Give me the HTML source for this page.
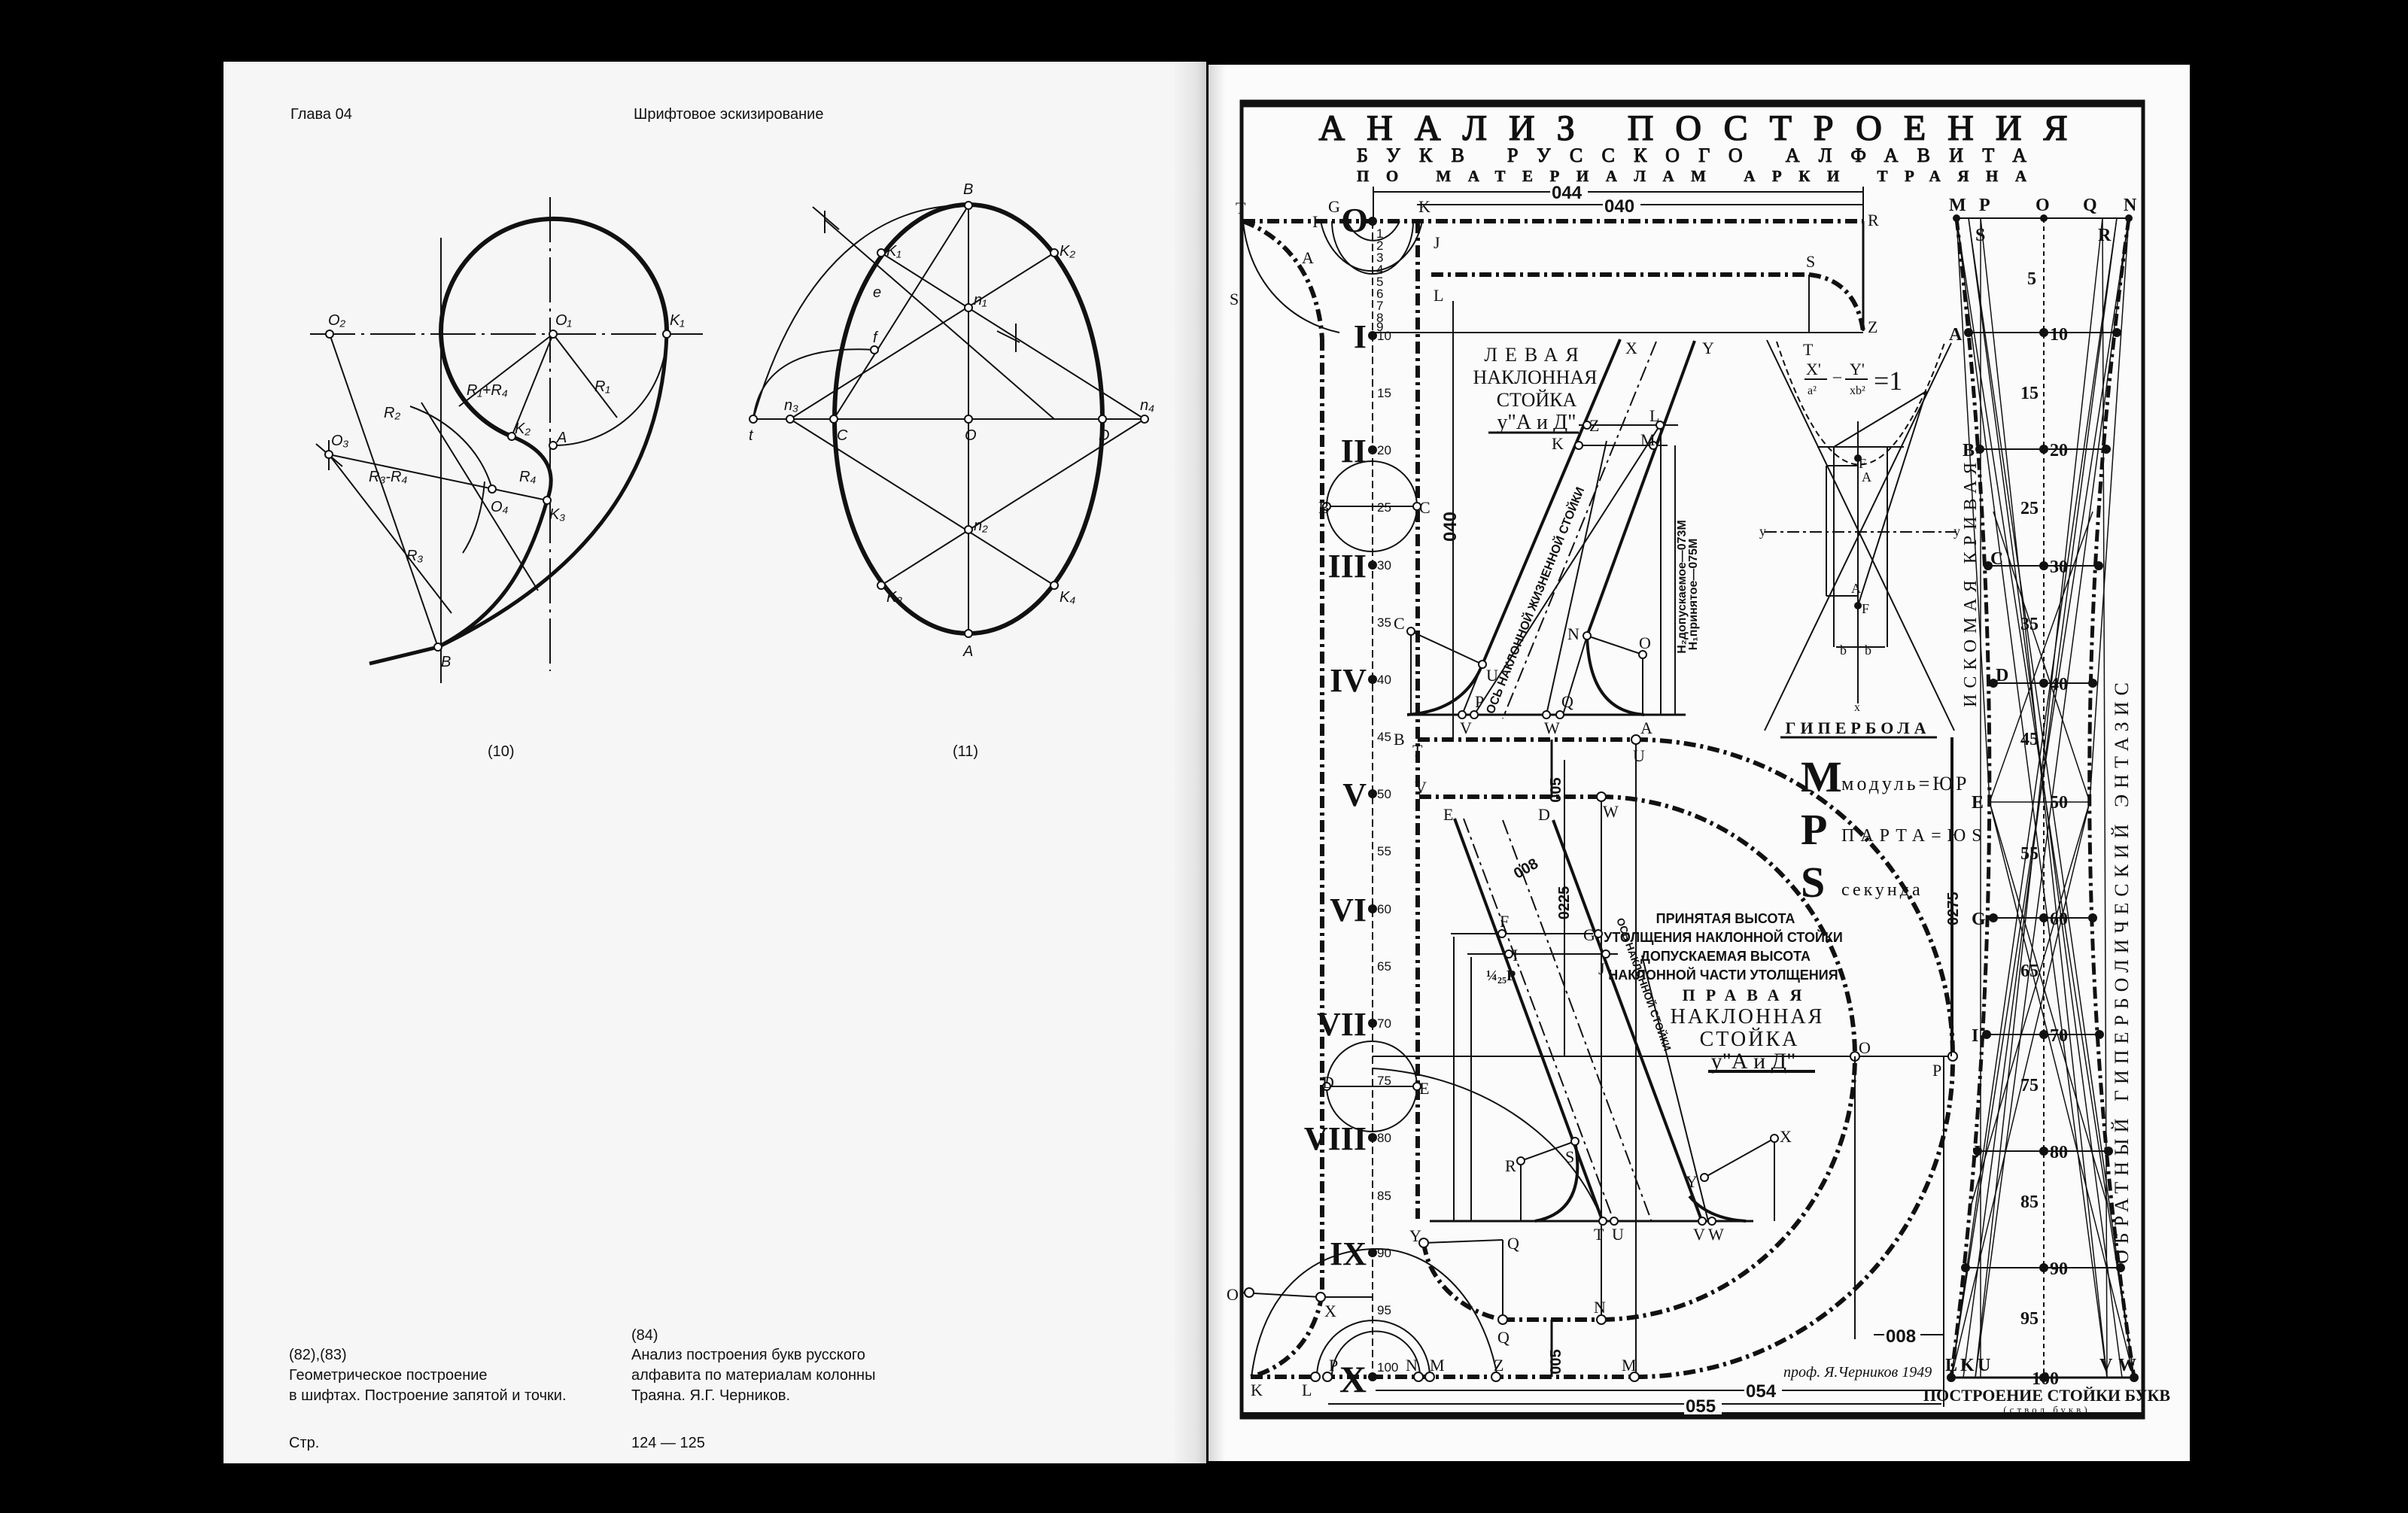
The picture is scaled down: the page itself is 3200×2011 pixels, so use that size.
<!DOCTYPE html>
<html><head><meta charset="utf-8">
<style>
html,body{margin:0;padding:0;background:#000;}
body{width:3200px;height:2011px;overflow:hidden;position:relative;font-family:"Liberation Sans","Noto Sans CJK SC",sans-serif;}
svg{position:absolute;left:0;top:0;}
</style></head><body>
<svg width="3200" height="2011" viewBox="0 0 3200 2011" xmlns="http://www.w3.org/2000/svg">
<defs>
<linearGradient id="gut" x1="0" x2="1">
<stop offset="0" stop-color="#f4f4f4"/><stop offset="0.7" stop-color="#e4e4e4"/><stop offset="1" stop-color="#cfcfcf"/>
</linearGradient>
<linearGradient id="gut2" x1="0" x2="1">
<stop offset="0" stop-color="#d8d8d8"/><stop offset="1" stop-color="#fbfbfb"/>
</linearGradient>
</defs>
<rect width="3200" height="2011" fill="#000"/>
<rect x="297" y="82" width="1306" height="1863" fill="#f6f6f6"/>
<rect x="1560" y="82" width="43" height="1863" fill="url(#gut)"/>
<rect x="1606" y="86" width="1304" height="1856" fill="#fbfbfb"/>
<rect x="1606" y="86" width="22" height="1856" fill="url(#gut2)"/>

<g font-family="Liberation Sans, sans-serif" font-size="20" fill="#111">
<text x="386" y="158">Глава 04</text>
<text x="842" y="158">Шрифтовое эскизирование</text>
<text x="648" y="1005">(10)</text>
<text x="1266" y="1005">(11)</text>
<text x="384" y="1807">(82),(83)</text>
<text x="384" y="1834">Геометрическое построение</text>
<text x="384" y="1861">в шифтах. Построение запятой и точки.</text>
<text x="839" y="1781">(84)</text>
<text x="839" y="1807">Анализ построения букв русского</text>
<text x="839" y="1834">алфавита по материалам колонны</text>
<text x="839" y="1861">Траяна. Я.Г. Черников.</text>
<text x="384" y="1924">Стр.</text>
<text x="839" y="1924">124 — 125</text>
</g>

<g fill="none" stroke="#111" stroke-width="2">
<line x1="412" y1="444" x2="934" y2="444" stroke-dasharray="60 8 4 8"/>
<line x1="586" y1="316" x2="586" y2="908"/>
<line x1="731" y1="262" x2="731" y2="892" stroke-dasharray="60 8 4 8"/>
<path d="M680 580 A150 150 0 1 1 886 444" stroke-width="6"/>
<path d="M886 444 A150 150 0 0 1 735 592"/>
<path d="M886 444 C 880 620 790 760 582 860 L 491 882" stroke-width="5"/>
<path d="M680 580 C 730 600 740 630 727 665 C 700 760 660 820 582 860" stroke-width="5"/>
<line x1="438" y1="444" x2="582" y2="860" stroke-width="2"/>
<line x1="437" y1="604" x2="727" y2="665"/>
<line x1="437" y1="604" x2="600" y2="815"/>
<line x1="735" y1="444" x2="680" y2="580"/>
<line x1="735" y1="444" x2="820" y2="555"/>
<line x1="735" y1="444" x2="610" y2="540"/>
<line x1="560" y1="535" x2="715" y2="785"/>
<path d="M545 540 C 600 560 640 600 654 650" />
<path d="M644 640 C 640 690 625 720 615 735"/>
<line x1="420" y1="590" x2="455" y2="620"/><line x1="437" y1="585" x2="437" y2="625"/>
</g>
<g fill="#fff" stroke="#111" stroke-width="2">
<circle cx="438" cy="444" r="5"/><circle cx="735" cy="444" r="5"/><circle cx="886" cy="444" r="5"/>
<circle cx="437" cy="604" r="5"/><circle cx="654" cy="650" r="5"/><circle cx="680" cy="580" r="5"/>
<circle cx="735" cy="592" r="5"/><circle cx="727" cy="665" r="5"/><circle cx="582" cy="860" r="5"/>
</g>
<g font-family="Liberation Sans, sans-serif" font-style="italic" font-size="20" fill="#111">
<text x="436" y="432">O₂</text><text x="738" y="432">O₁</text><text x="890" y="432">K₁</text>
<text x="440" y="592">O₃</text><text x="652" y="680">O₄</text><text x="684" y="576">K₂</text>
<text x="740" y="588">A</text><text x="730" y="690">K₃</text><text x="586" y="886">B</text>
<text x="620" y="525">R₁+R₄</text><text x="790" y="520">R₁</text><text x="510" y="555">R₂</text>
<text x="490" y="640">R₃-R₄</text><text x="690" y="640">R₄</text><text x="540" y="745">R₃</text>
</g>

<g fill="none" stroke="#111" stroke-width="2">
<ellipse cx="1287" cy="557" rx="178" ry="285" stroke-width="6"/>
<line x1="1287" y1="273" x2="1287" y2="842"/>
<line x1="1001" y1="557" x2="1521" y2="557"/>
<line x1="1050" y1="557" x2="1401" y2="336"/>
<line x1="1050" y1="557" x2="1401" y2="778"/>
<line x1="1521" y1="557" x2="1171" y2="336"/>
<line x1="1521" y1="557" x2="1171" y2="778"/>
<line x1="1096" y1="292" x2="1401" y2="557"/>
<line x1="1108" y1="557" x2="1287" y2="273"/>
<path d="M1287 273 C 1170 270 1060 350 1001 557"/>
<path d="M1001 557 C 1010 480 1080 460 1162 465"/>
<line x1="1080" y1="275" x2="1115" y2="305"/><line x1="1096" y1="280" x2="1096" y2="310"/>
<line x1="1325" y1="440" x2="1355" y2="455"/><line x1="1350" y1="430" x2="1350" y2="468"/>
</g>
<g fill="#fff" stroke="#111" stroke-width="2">
<circle cx="1287" cy="273" r="5"/><circle cx="1287" cy="842" r="5"/><circle cx="1287" cy="557" r="5"/>
<circle cx="1108" cy="557" r="5"/><circle cx="1465" cy="557" r="5"/><circle cx="1001" cy="557" r="5"/>
<circle cx="1050" cy="557" r="5"/><circle cx="1521" cy="557" r="5"/><circle cx="1287" cy="409" r="5"/>
<circle cx="1287" cy="704" r="5"/><circle cx="1171" cy="336" r="5"/><circle cx="1401" cy="336" r="5"/>
<circle cx="1171" cy="778" r="5"/><circle cx="1401" cy="778" r="5"/><circle cx="1162" cy="465" r="5"/>
</g>
<g font-family="Liberation Sans, sans-serif" font-style="italic" font-size="20" fill="#111">
<text x="1280" y="258">B</text><text x="1280" y="872">A</text><text x="1282" y="585">O</text>
<text x="1112" y="585">C</text><text x="1460" y="585">D</text><text x="995" y="585">t</text>
<text x="1042" y="545">n₃</text><text x="1515" y="545">n₄</text><text x="1294" y="405">n₁</text>
<text x="1294" y="705">n₂</text><text x="1178" y="340">K₁</text><text x="1408" y="340">K₂</text>
<text x="1178" y="800">K₃</text><text x="1408" y="800">K₄</text><text x="1160" y="395">e</text><text x="1160" y="455">f</text>
</g>

<rect x="1650" y="135" width="1198" height="1749" fill="none" stroke="#111" stroke-width="5"/>
<line x1="1650" y1="140" x2="2848" y2="140" stroke="#111" stroke-width="5"/>
<line x1="1650" y1="1880" x2="2848" y2="1880" stroke="#111" stroke-width="6"/>

<g font-family="Liberation Serif, serif" fill="#111" text-anchor="middle" stroke="#111">
<text x="2250" y="186" font-size="48" stroke-width="1.5" textLength="995" lengthAdjust="spacing">АНАЛИЗ ПОСТРОЕНИЯ</text>
<text x="2248" y="215" font-size="26" stroke-width="1" textLength="890" lengthAdjust="spacing">БУКВ РУССКОГО АЛФАВИТА</text>
<text x="2248" y="241" font-size="21" stroke-width="0.5" font-weight="bold" textLength="890" lengthAdjust="spacing">ПО МАТЕРИАЛАМ АРКИ ТРАЯНА</text>
</g>

<g stroke="#111" stroke-width="2" fill="#111">
<line x1="1825" y1="255" x2="2476" y2="255"/><line x1="1883" y1="272" x2="2476" y2="272"/>
<line x1="1825" y1="248" x2="1825" y2="300"/><line x1="2476" y1="248" x2="2476" y2="294"/>
</g>
<g font-family="Liberation Sans, sans-serif" font-weight="bold" font-size="24" fill="#111">
<rect x="2060" y="244" width="50" height="22" fill="#fbfbfb"/><text x="2062" y="264">044</text>
<rect x="2130" y="262" width="50" height="22" fill="#fbfbfb"/><text x="2132" y="282">040</text>
</g>

<g fill="none" stroke="#111" stroke-width="6" stroke-dasharray="16 6 4 6">
<line x1="1652" y1="294" x2="2476" y2="294"/>
<line x1="1902" y1="365" x2="2404" y2="365"/>
<path d="M2404 365 C 2450 370 2470 400 2476 440"/>
<path d="M1652 294 C 1720 320 1752 380 1757 450"/>
<line x1="1757" y1="450" x2="1757" y2="1720"/>
<path d="M1757 1720 C 1745 1790 1700 1820 1662 1830"/>
<line x1="1662" y1="1830" x2="2172" y2="1830"/>
<line x1="1884" y1="294" x2="1884" y2="1620"/>
<line x1="1884" y1="983" x2="2174" y2="983"/>
<path d="M2174 983 A421 421 0 0 1 2595 1404 A421 421 0 0 1 2172 1830"/>
<line x1="1886" y1="1059" x2="2128" y2="1059"/>
<path d="M2128 1059 A340 345 0 0 1 2465 1404 A340 350 0 0 1 2128 1754"/>
<line x1="1997" y1="1754" x2="2128" y2="1754"/>
<path d="M1892 1652 C 1900 1710 1950 1745 1997 1754"/>
</g>
<line x1="2476" y1="294" x2="2476" y2="440" stroke="#111" stroke-width="3"/>
<line x1="1824" y1="442" x2="2476" y2="442" stroke="#111" stroke-width="2"/>
<line x1="1824" y1="1404" x2="2600" y2="1404" stroke="#111" stroke-width="2"/>
<line x1="2404" y1="365" x2="2404" y2="442" stroke="#111" stroke-width="2"/>

<line x1="1824" y1="294" x2="1824" y2="1830" stroke="#111" stroke-width="2" stroke-dasharray="10 5"/>
<g fill="#111">
<circle cx="1824" cy="294" r="6"/><circle cx="1824" cy="446" r="6"/><circle cx="1824" cy="598" r="6"/>
<circle cx="1824" cy="751" r="6"/><circle cx="1824" cy="903" r="6"/><circle cx="1824" cy="1055" r="6"/>
<circle cx="1824" cy="1208" r="6"/><circle cx="1824" cy="1360" r="6"/><circle cx="1824" cy="1512" r="6"/>
<circle cx="1824" cy="1665" r="6"/><circle cx="1824" cy="1830" r="6"/>
</g>
<g font-family="Liberation Serif, serif" font-weight="bold" fill="#111" text-anchor="end">
<text x="1818" y="308" font-size="46">O</text>
<text x="1816" y="462" font-size="44">I</text>
<text x="1816" y="614" font-size="44">II</text>
<text x="1816" y="767" font-size="44">III</text>
<text x="1816" y="919" font-size="44">IV</text>
<text x="1816" y="1071" font-size="44">V</text>
<text x="1816" y="1224" font-size="44">VI</text>
<text x="1816" y="1376" font-size="44">VII</text>
<text x="1816" y="1528" font-size="44">VIII</text>
<text x="1816" y="1681" font-size="44">IX</text>
<text x="1816" y="1850" font-size="50">X</text>
</g>
<g font-family="Liberation Sans, sans-serif" font-size="17" fill="#111">
<text x="1829" y="316">1</text><text x="1829" y="332">2</text><text x="1829" y="348">3</text><text x="1829" y="364">4</text>
<text x="1829" y="380">5</text><text x="1829" y="396">6</text><text x="1829" y="412">7</text><text x="1829" y="428">8</text><text x="1829" y="440">9</text>
<text x="1830" y="452">10</text><text x="1830" y="528">15</text><text x="1830" y="604">20</text><text x="1830" y="680">25</text>
<text x="1830" y="757">30</text><text x="1830" y="833">35</text><text x="1830" y="909">40</text><text x="1830" y="985">45</text>
<text x="1830" y="1061">50</text><text x="1830" y="1137">55</text><text x="1830" y="1214">60</text><text x="1830" y="1290">65</text>
<text x="1830" y="1366">70</text><text x="1830" y="1442">75</text><text x="1830" y="1518">80</text><text x="1830" y="1595">85</text>
<text x="1830" y="1671">90</text><text x="1830" y="1747">95</text><text x="1830" y="1823">100</text>
</g>

<g fill="none" stroke="#111" stroke-width="2">
<circle cx="1823" cy="673" r="60"/>
<circle cx="1823" cy="1444" r="60"/>
<line x1="1763" y1="673" x2="1883" y2="673"/><line x1="1763" y1="1444" x2="1883" y2="1444"/>
<path d="M1770 294 A54 70 0 0 0 1878 294"/>
<path d="M1790 294 A40 50 0 0 0 1860 294"/>
<path d="M1755 294 A70 90 0 0 0 1890 294"/>
<path d="M1652 294 C 1660 380 1720 430 1780 442"/>
<path d="M1663 1830 C 1680 1700 1760 1660 1830 1660 C 1900 1660 1970 1720 1990 1830"/>
<path d="M1750 1830 A75 75 0 0 1 1900 1830"/>
<path d="M1770 1830 A58 60 0 0 1 1887 1830"/>
<path d="M1824 1420 C 1980 1430 2090 1520 2130 1624"/>
<line x1="1649" y1="1718" x2="1755" y2="1724"/>
<line x1="1755" y1="1724" x2="1824" y2="1724"/>
<line x1="1892" y1="1652" x2="1997" y2="1648"/>
<line x1="1997" y1="1648" x2="1997" y2="1754"/>
<line x1="2128" y1="1059" x2="2128" y2="1754"/>
<line x1="2174" y1="983" x2="2174" y2="1830"/>
<line x1="2062" y1="983" x2="2062" y2="1059" stroke-width="3"/>
<line x1="2062" y1="1754" x2="2062" y2="1830" stroke-width="3"/>
<line x1="2595" y1="980" x2="2595" y2="1404"/>
</g>
<g fill="#fff" stroke="#111" stroke-width="2">
<circle cx="1763" cy="673" r="5"/><circle cx="1883" cy="673" r="5"/>
<circle cx="1763" cy="1444" r="5"/><circle cx="1883" cy="1444" r="5"/>
<circle cx="2174" cy="983" r="6"/><circle cx="2128" cy="1059" r="6"/>
<circle cx="2465" cy="1404" r="6"/><circle cx="2595" cy="1404" r="6"/>
<circle cx="1997" cy="1754" r="6"/><circle cx="2128" cy="1754" r="6"/>
<circle cx="1892" cy="1652" r="6"/><circle cx="1755" cy="1724" r="6"/><circle cx="1660" cy="1718" r="6"/>
<circle cx="1748" cy="1830" r="6"/><circle cx="1764" cy="1830" r="6"/>
<circle cx="1885" cy="1830" r="6"/><circle cx="1900" cy="1830" r="6"/>
<circle cx="1988" cy="1830" r="6"/><circle cx="2172" cy="1830" r="6"/>
</g>

<g fill="none" stroke="#111" stroke-width="4">
<line x1="2153" y1="451" x2="1970" y2="883"/>
<line x1="2252" y1="453" x2="2109" y2="845"/>
<line x1="1870" y1="950" x2="2240" y2="950" stroke-width="3"/>
<path d="M1870 950 Q1945 945 1970 883" stroke-width="4"/>
<path d="M2109 845 Q2112 945 2185 950" stroke-width="4"/>
</g>
<g fill="none" stroke="#111" stroke-width="2">
<line x1="2201" y1="454" x2="1997" y2="955" stroke-dasharray="20 6 4 6"/>
<line x1="2206" y1="565" x2="1959" y2="950"/>
<line x1="2135" y1="586" x2="2055" y2="950"/>
<line x1="1970" y1="883" x2="1943" y2="950"/>
<line x1="2109" y1="845" x2="2077" y2="950"/>
<line x1="2098" y1="565" x2="2230" y2="565"/>
<line x1="2098" y1="592" x2="2216" y2="592"/>
<line x1="1875" y1="839" x2="1970" y2="883"/>
<line x1="1875" y1="839" x2="1875" y2="950"/>
<line x1="2109" y1="845" x2="2183" y2="870"/>
<line x1="2183" y1="870" x2="2183" y2="950"/>
<line x1="1931" y1="400" x2="1931" y2="983"/>
<line x1="2207" y1="566" x2="2207" y2="950"/>
<line x1="2226" y1="592" x2="2226" y2="950"/>
</g>
<g fill="#fff" stroke="#111" stroke-width="2">
<circle cx="1970" cy="883" r="5"/><circle cx="2109" cy="845" r="5"/><circle cx="2183" cy="870" r="5"/>
<circle cx="1875" cy="839" r="5"/><circle cx="1943" cy="950" r="5"/><circle cx="1959" cy="950" r="5"/>
<circle cx="2055" cy="950" r="5"/><circle cx="2073" cy="950" r="5"/><circle cx="2109" cy="565" r="5"/>
<circle cx="2206" cy="565" r="5"/><circle cx="2098" cy="592" r="5"/><circle cx="2197" cy="592" r="5"/>
</g>
<g font-family="Liberation Serif, serif" font-size="22" fill="#111">
<text x="2160" y="470">X</text><text x="2262" y="470">Y</text>
<text x="2112" y="573">Z</text><text x="2192" y="560">L</text><text x="2062" y="597">K</text><text x="2180" y="592">M</text>
<text x="1852" y="990">B</text><text x="1940" y="975">V</text><text x="1960" y="940">P</text>
<text x="2052" y="975">W</text><text x="2075" y="940">Q</text><text x="2180" y="975">A</text>
<text x="1975" y="905">U</text><text x="2083" y="850">N</text><text x="2178" y="862">O</text><text x="1852" y="836">C</text>
<text x="1877" y="1005">T</text><text x="2170" y="1012">U</text>
<text x="1880" y="1054">V</text><text x="2130" y="1086">W</text>
<text x="2470" y="1400">O</text><text x="2568" y="1430">P</text>
<text x="1630" y="1728">O</text><text x="1760" y="1750">X</text>
<text x="1662" y="1855">K</text><text x="1730" y="1855">L</text><text x="1766" y="1822">P</text>
<text x="1868" y="1822">N</text><text x="1900" y="1822">M</text><text x="1985" y="1822">Z</text><text x="2155" y="1822">M</text>
<text x="1873" y="1650">Y</text><text x="2003" y="1660">Q</text><text x="1990" y="1785">Q</text><text x="2118" y="1745">N</text>
<text x="1757" y="1446">D</text><text x="1886" y="1454">E</text>
<text x="1752" y="682">B</text><text x="1886" y="682">C</text>
<text x="1642" y="284">T</text><text x="1765" y="282">G</text><text x="1885" y="282">K</text>
<text x="1905" y="330">J</text><text x="1905" y="400">L</text><text x="2400" y="355">S</text>
<text x="2482" y="300">R</text><text x="2482" y="442">Z</text><text x="2396" y="472">T</text>
<text x="1730" y="350">A</text><text x="1634" y="405">S</text><text x="1744" y="302">I</text>
</g>

<g font-family="Liberation Sans, sans-serif" fill="#111" text-anchor="middle">
<text x="2040" y="480" font-size="26" font-family="Liberation Serif, serif" letter-spacing="10">ЛЕВАЯ</text>
<text x="2040" y="510" font-size="26" font-family="Liberation Serif, serif">НАКЛОННАЯ</text>
<text x="2042" y="540" font-size="26" font-family="Liberation Serif, serif">СТОЙКА</text>
<text x="2042" y="570" font-size="28" font-family="Liberation Serif, serif">у"А и Д"</text>
<line x1="1978" y1="575" x2="2098" y2="575" stroke="#111" stroke-width="3"/>
<text transform="translate(1935 700) rotate(-90)" font-size="24" font-weight="bold">040</text>
<text transform="translate(2045 800) rotate(-68)" font-size="16" font-weight="bold">ОСЬ НАКЛОННОЙ ЖИЗНЕННОЙ СТОЙКИ</text>
<text transform="translate(2240 780) rotate(-90)" font-size="16" font-weight="bold">H₂допускаемое—073М</text>
<text transform="translate(2255 790) rotate(-90)" font-size="16" font-weight="bold">H₁принятое—075М</text>
</g>

<g fill="none" stroke="#111" stroke-width="2">
<line x1="2348" y1="452" x2="2597" y2="971"/>
<line x1="2593" y1="456" x2="2345" y2="971"/>
<path d="M2361 454 Q2469 780 2584 456" stroke-dasharray="8 5"/>
<line x1="2469" y1="560" x2="2469" y2="935"/>
<line x1="2345" y1="707" x2="2600" y2="707" stroke-dasharray="16 5 4 5"/>
<line x1="2415" y1="594" x2="2530" y2="594"/>
<line x1="2427" y1="619" x2="2469" y2="619"/>
<line x1="2427" y1="792" x2="2469" y2="792"/>
<line x1="2427" y1="619" x2="2427" y2="792"/>
<line x1="2437" y1="594" x2="2437" y2="860"/>
<line x1="2508" y1="594" x2="2508" y2="860"/>
<line x1="2560" y1="520" x2="2437" y2="594"/>
<line x1="2560" y1="520" x2="2469" y2="805"/>
<line x1="2440" y1="860" x2="2505" y2="860"/>
</g>
<g fill="#111"><circle cx="2469" cy="609" r="5"/><circle cx="2469" cy="805" r="5"/></g>
<g font-family="Liberation Serif, serif" fill="#111" font-size="22">
<text x="2400" y="498">X'</text><line x1="2398" y1="504" x2="2428" y2="504" stroke="#111" stroke-width="2"/><text x="2402" y="524" font-size="16">a²</text>
<text x="2436" y="507">–</text>
<text x="2458" y="498">Y'</text><line x1="2452" y1="504" x2="2482" y2="504" stroke="#111" stroke-width="2"/><text x="2458" y="524" font-size="16">xb²</text>
<text x="2490" y="518" font-size="36">=1</text>
<text x="2470" y="622" font-size="18">F</text><text x="2474" y="640" font-size="18">A</text>
<text x="2460" y="788" font-size="18">A</text><text x="2474" y="815" font-size="18">F</text>
<text x="2338" y="712" font-size="18">y</text><text x="2596" y="712" font-size="18">y</text>
<text x="2445" y="870" font-size="18">b</text><text x="2478" y="870" font-size="18">b</text>
<text x="2464" y="945" font-size="16">x</text>
<text x="2469" y="975" font-size="22" text-anchor="middle" letter-spacing="6" font-weight="bold">ГИПЕРБОЛА</text>
<line x1="2366" y1="980" x2="2574" y2="980" stroke="#111" stroke-width="3"/>
</g>

<g font-family="Liberation Serif, serif" fill="#111">
<text x="2393" y="1052" font-size="58" font-weight="bold">M</text>
<text x="2447" y="1050" font-size="26" letter-spacing="4">модуль=ЮР</text>
<text x="2393" y="1122" font-size="58" font-weight="bold">P</text>
<text x="2447" y="1118" font-size="24" letter-spacing="8">ПАРТА=ЮS</text>
<text x="2393" y="1192" font-size="58" font-weight="bold">S</text>
<text x="2447" y="1190" font-size="24" letter-spacing="4">секунда</text>
</g>
<line x1="2593" y1="980" x2="2593" y2="1404" stroke="#111" stroke-width="2"/>
<text transform="translate(2602 1230) rotate(-90)" font-family="Liberation Sans, sans-serif" font-weight="bold" font-size="20" fill="#111">0275</text>

<g fill="none" stroke="#111" stroke-width="4">
<line x1="1933" y1="1088" x2="2130" y2="1624"/>
<line x1="2064" y1="1090" x2="2262" y2="1624"/>
<line x1="1900" y1="1623" x2="2330" y2="1623" stroke-width="3"/>
<path d="M2093 1517 Q2110 1610 2040 1623" />
<path d="M2245 1590 Q2270 1620 2320 1623"/>
</g>
<g fill="none" stroke="#111" stroke-width="2">
<line x1="1945" y1="1088" x2="2145" y2="1624" stroke-dasharray="20 6 4 6"/>
<line x1="1997" y1="1090" x2="2195" y2="1624" stroke-dasharray="20 6 4 6"/>
<line x1="1928" y1="1241" x2="2117" y2="1241"/>
<line x1="1950" y1="1268" x2="2150" y2="1268"/>
<line x1="1932" y1="1245" x2="1932" y2="1623"/>
<line x1="1955" y1="1272" x2="1955" y2="1623"/>
<line x1="2079" y1="1010" x2="2079" y2="1404"/>
<line x1="2182" y1="1270" x2="2270" y2="1623"/>
<line x1="2021" y1="1543" x2="2093" y2="1517"/>
<line x1="2021" y1="1543" x2="2021" y2="1623"/>
<line x1="2265" y1="1565" x2="2358" y2="1513"/>
<line x1="2358" y1="1513" x2="2358" y2="1623"/>
</g>
<g fill="#fff" stroke="#111" stroke-width="2">
<circle cx="1996" cy="1241" r="5"/><circle cx="2124" cy="1241" r="5"/>
<circle cx="2005" cy="1268" r="5"/><circle cx="2134" cy="1268" r="5"/>
<circle cx="2093" cy="1517" r="5"/><circle cx="2021" cy="1543" r="5"/>
<circle cx="2265" cy="1565" r="5"/><circle cx="2358" cy="1513" r="5"/>
<circle cx="2130" cy="1623" r="5"/><circle cx="2145" cy="1623" r="5"/>
<circle cx="2262" cy="1623" r="5"/><circle cx="2275" cy="1623" r="5"/>
</g>
<g font-family="Liberation Serif, serif" font-size="22" fill="#111">
<text x="1918" y="1090">E</text><text x="2044" y="1090">D</text><text x="1993" y="1232">F</text>
<text x="2104" y="1250">G</text><text x="2010" y="1277">I</text><text x="2124" y="1295">J</text>
<text x="2000" y="1557">R</text><text x="2080" y="1545">S</text><text x="2240" y="1578">Y</text>
<text x="2365" y="1518">X</text><text x="2118" y="1648">T</text><text x="2142" y="1648">U</text>
<text x="2250" y="1648">V</text><text x="2270" y="1648">W</text>
<text x="1975" y="1303" font-size="20" font-weight="bold">¼₂₅P</text>
</g>
<g font-family="Liberation Sans, sans-serif" fill="#111" text-anchor="middle">
<text x="2293" y="1227" font-size="18" font-weight="bold">ПРИНЯТАЯ ВЫСОТА</text>
<text x="2290" y="1252" font-size="18" font-weight="bold">УТОЛЩЕНИЯ НАКЛОННОЙ СТОЙКИ</text>
<text x="2293" y="1277" font-size="18" font-weight="bold">ДОПУСКАЕМАЯ ВЫСОТА</text>
<text x="2290" y="1302" font-size="18" font-weight="bold">НАКЛОННОЙ ЧАСТИ УТОЛЩЕНИЯ</text>
<text x="2322" y="1330" font-size="22" font-family="Liberation Serif, serif" font-weight="bold" letter-spacing="14">ПРАВАЯ</text>
<text x="2322" y="1360" font-size="28" font-family="Liberation Serif, serif" letter-spacing="3">НАКЛОННАЯ</text>
<text x="2325" y="1390" font-size="28" font-family="Liberation Serif, serif" letter-spacing="3">СТОЙКА</text>
<text x="2330" y="1420" font-size="30" font-family="Liberation Serif, serif">у"А и Д"</text>
<line x1="2270" y1="1424" x2="2412" y2="1424" stroke="#111" stroke-width="4"/>
<text transform="translate(2085 1200) rotate(-90)" font-size="20" font-weight="bold">0225</text>
<text transform="translate(2074 1050) rotate(-90)" font-size="20" font-weight="bold">005</text>
<text transform="translate(2074 1810) rotate(-90)" font-size="20" font-weight="bold">005</text>
<text transform="translate(2031 1160) rotate(-30)" font-size="20" font-weight="bold">008</text>
<text transform="translate(2180 1310) rotate(70)" font-size="14" font-weight="bold">ОСЬ НАКЛОННОЙ СТОЙКИ</text>
</g>

<g stroke="#111" stroke-width="2">
<line x1="1828" y1="1848" x2="2580" y2="1848"/>
<line x1="1765" y1="1866" x2="2580" y2="1866"/>
<line x1="2490" y1="1774" x2="2583" y2="1774"/>
<line x1="2465" y1="1404" x2="2465" y2="1780"/>
<line x1="2583" y1="1404" x2="2583" y2="1870"/>
</g>
<g font-family="Liberation Sans, sans-serif" font-weight="bold" font-size="24" fill="#111">
<rect x="2318" y="1834" width="50" height="26" fill="#fbfbfb"/><text x="2320" y="1857">054</text>
<rect x="2238" y="1854" width="50" height="26" fill="#fbfbfb"/><text x="2240" y="1877">055</text>
<rect x="2504" y="1762" width="48" height="24" fill="#fbfbfb"/><text x="2506" y="1784">008</text>
</g>
<text x="2370" y="1830" font-family="Liberation Serif, serif" font-style="italic" font-size="20" fill="#111">проф. Я.Черников 1949</text>

<g fill="none" stroke="#111" stroke-width="5" stroke-dasharray="16 6 4 6">
<path d="M2600 290 Q2691 1069 2593 1831"/>
<path d="M2829 290 Q2721 1070 2836 1831"/>
</g>
<line x1="2600" y1="290" x2="2829" y2="290" stroke="#111" stroke-width="2"/>
<line x1="2593" y1="1831" x2="2836" y2="1831" stroke="#111" stroke-width="3"/>
<line x1="2716" y1="290" x2="2716" y2="1831" stroke="#111" stroke-width="2" stroke-dasharray="6 5"/>
<g stroke="#111" stroke-width="1.5">
<line x1="2600" y1="290" x2="2836" y2="1831"/><line x1="2829" y1="290" x2="2593" y2="1831"/>
<line x1="2616" y1="290" x2="2820" y2="1831"/><line x1="2813" y1="290" x2="2609" y2="1831"/>
<line x1="2632" y1="290" x2="2800" y2="1831"/><line x1="2794" y1="290" x2="2625" y2="1831"/>
<line x1="2600" y1="290" x2="2800" y2="1831"/><line x1="2829" y1="290" x2="2625" y2="1831"/>
<line x1="2616" y1="290" x2="2836" y2="1831"/><line x1="2813" y1="290" x2="2593" y2="1831"/>
<line x1="2632" y1="290" x2="2632" y2="1831"/><line x1="2794" y1="290" x2="2800" y2="1831"/>
<line x1="2600" y1="290" x2="2644" y2="1066"/><line x1="2829" y1="290" x2="2777" y2="1066"/>
<line x1="2644" y1="1066" x2="2836" y2="1831"/><line x1="2777" y1="1066" x2="2593" y2="1831"/>
<line x1="2644" y1="1066" x2="2781" y2="680"/><line x1="2777" y1="1066" x2="2649" y2="680"/>
<line x1="2644" y1="1066" x2="2800" y2="1600"/><line x1="2777" y1="1066" x2="2620" y2="1600"/>
<line x1="2644" y1="1066" x2="2777" y2="1066"/>
</g>
<g stroke="#111" stroke-width="2">
<line x1="2616" y1="442" x2="2813" y2="442"/><line x1="2631" y1="597" x2="2799" y2="597"/>
<line x1="2642" y1="752" x2="2789" y2="752"/><line x1="2649" y1="908" x2="2781" y2="908"/>
<line x1="2649" y1="1220" x2="2781" y2="1220"/><line x1="2640" y1="1375" x2="2790" y2="1375"/>
<line x1="2628" y1="1530" x2="2802" y2="1530"/><line x1="2612" y1="1685" x2="2818" y2="1685"/>
</g>
<g fill="#111">
<circle cx="2600" cy="290" r="5"/><circle cx="2829" cy="290" r="5"/><circle cx="2716" cy="290" r="5"/>
<circle cx="2616" cy="442" r="6"/><circle cx="2813" cy="442" r="6"/><circle cx="2716" cy="442" r="6"/>
<circle cx="2631" cy="597" r="6"/><circle cx="2799" cy="597" r="6"/><circle cx="2716" cy="597" r="6"/>
<circle cx="2642" cy="752" r="6"/><circle cx="2789" cy="752" r="6"/><circle cx="2716" cy="752" r="6"/>
<circle cx="2649" cy="908" r="6"/><circle cx="2781" cy="908" r="6"/><circle cx="2716" cy="908" r="6"/>
<circle cx="2649" cy="1220" r="6"/><circle cx="2781" cy="1220" r="6"/><circle cx="2716" cy="1220" r="6"/>
<circle cx="2640" cy="1375" r="6"/><circle cx="2790" cy="1375" r="6"/><circle cx="2716" cy="1375" r="6"/>
<circle cx="2628" cy="1530" r="6"/><circle cx="2802" cy="1530" r="6"/><circle cx="2716" cy="1530" r="6"/>
<circle cx="2612" cy="1685" r="6"/><circle cx="2818" cy="1685" r="6"/><circle cx="2716" cy="1685" r="6"/>
<circle cx="2593" cy="1831" r="6"/><circle cx="2836" cy="1831" r="6"/><circle cx="2716" cy="1831" r="6"/>
</g>
<g font-family="Liberation Serif, serif" font-weight="bold" font-size="24" fill="#111">
<text x="2590" y="280">M</text><text x="2630" y="280">P</text><text x="2705" y="280">O</text><text x="2768" y="280">Q</text><text x="2822" y="280">N</text>
<text x="2625" y="320">S</text><text x="2788" y="320">R</text>
<text x="2694" y="378">5</text><text x="2724" y="452">10</text><text x="2685" y="530">15</text><text x="2724" y="606">20</text>
<text x="2685" y="683">25</text><text x="2724" y="761">30</text><text x="2685" y="837">35</text><text x="2724" y="917">40</text>
<text x="2685" y="990">45</text><text x="2724" y="1074">50</text><text x="2685" y="1142">55</text><text x="2724" y="1229">60</text>
<text x="2685" y="1298">65</text><text x="2724" y="1384">70</text><text x="2685" y="1450">75</text><text x="2724" y="1539">80</text>
<text x="2685" y="1605">85</text><text x="2724" y="1694">90</text><text x="2685" y="1760">95</text><text x="2700" y="1840">100</text>
<text x="2590" y="452">A</text><text x="2608" y="606">B</text><text x="2645" y="750">C</text><text x="2652" y="905">D</text>
<text x="2620" y="1074">E</text><text x="2620" y="1229">G</text><text x="2620" y="1384">I</text><text x="2620" y="1539">J</text>
<text x="2585" y="1822">L</text><text x="2605" y="1822">K</text><text x="2628" y="1822">U</text><text x="2790" y="1822">V</text><text x="2815" y="1822">W</text>
</g>
<g font-family="Liberation Serif, serif" fill="#111">
<text transform="translate(2626 940) rotate(-90)" font-size="24" letter-spacing="8">ИСКОМАЯ КРИВАЯ</text>
<text transform="translate(2828 1680) rotate(-90)" font-size="26" letter-spacing="8">ОБРАТНЫЙ ГИПЕРБОЛИЧЕСКИЙ ЭНТАЗИС</text>
<text x="2720" y="1862" font-size="22" font-weight="bold" text-anchor="middle">ПОСТРОЕНИЕ СТОЙКИ БУКВ</text>
<text x="2720" y="1878" font-size="13" text-anchor="middle" letter-spacing="4">(ствол букв)</text>
</g>
</svg>
</body></html>
